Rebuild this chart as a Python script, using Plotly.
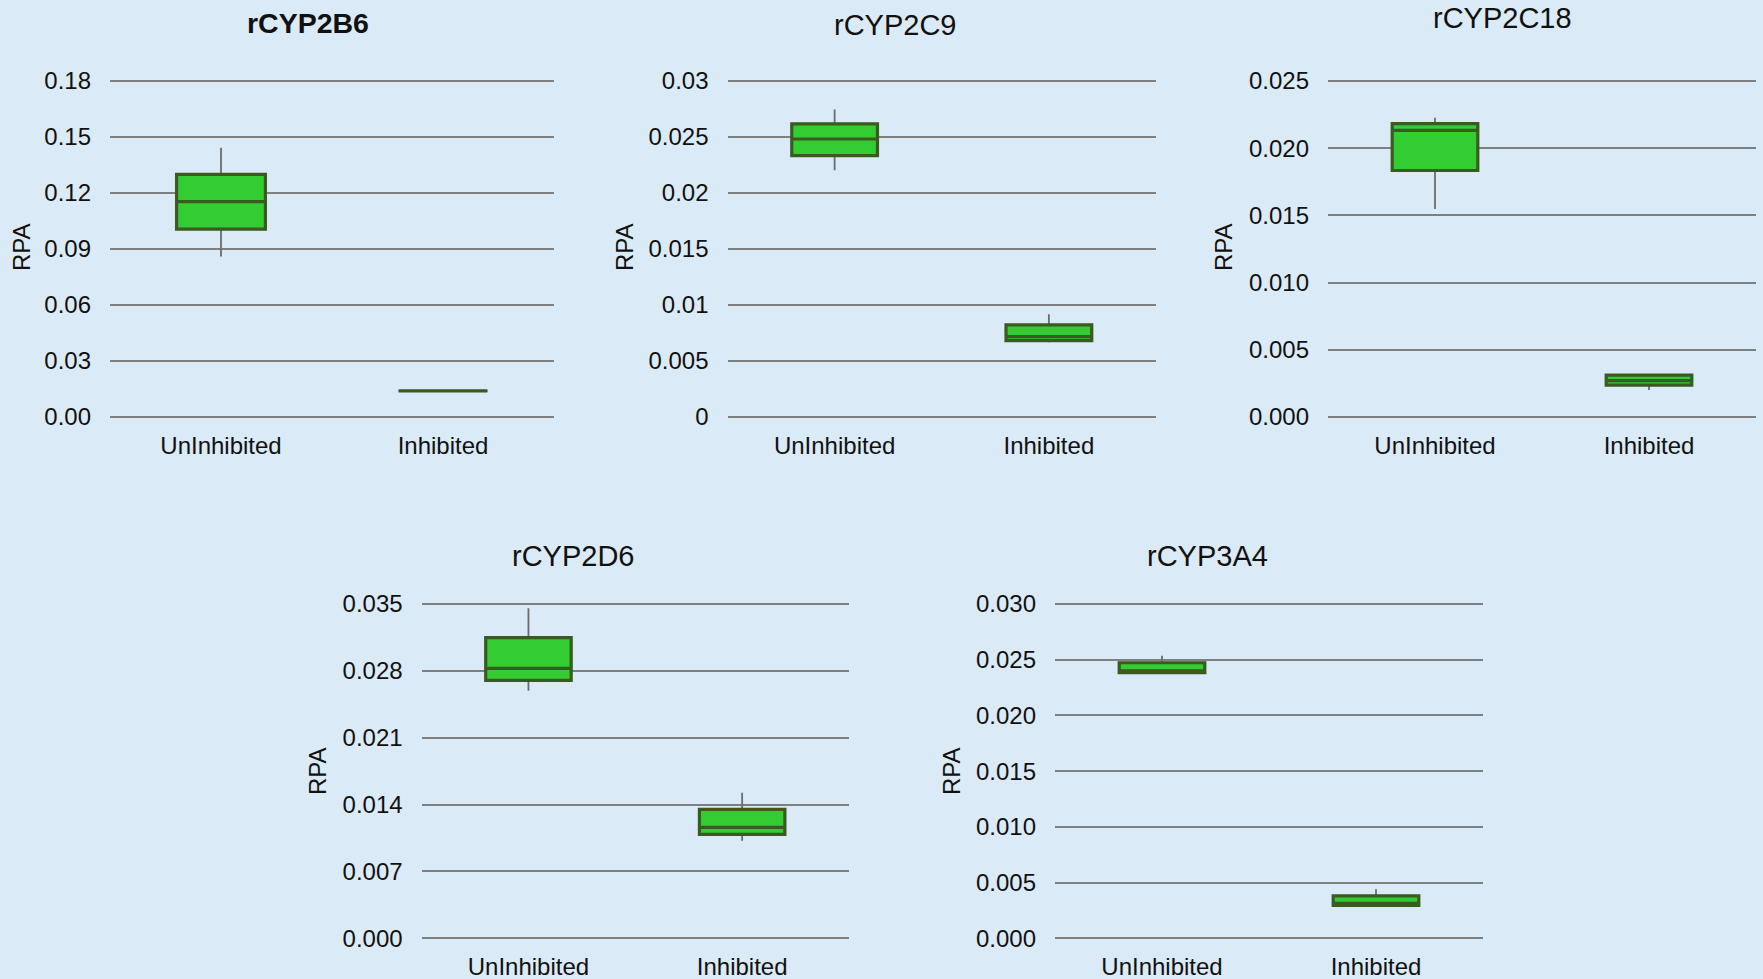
import plotly.graph_objects as go

W, H = 1763, 979

categories = ["UnInhibited", "Inhibited"]
titles = ["rCYP2B6", "rCYP2C9", "rCYP2C18", "rCYP2D6", "rCYP3A4"]
title_bold = [True, False, False, False, False]

# box statistics per panel: [UnInhibited, Inhibited]
q1 =     [[0.1007, 0.0140], [0.02333, 0.00682], [0.01834, 0.00237], [0.02701, 0.01089], [0.02384, 0.00296]]
median = [[0.1154, 0.0140], [0.02482, 0.00718], [0.02133, 0.00270], [0.02827, 0.01162], [0.02401, 0.00314]]
q3 =     [[0.1300, 0.0140], [0.02617, 0.00822], [0.02183, 0.00312], [0.03147, 0.01350], [0.02473, 0.00380]]
lower =  [[0.0860, 0.0140], [0.02204, 0.00667], [0.01547, 0.00200], [0.02592, 0.01022], [0.02384, 0.00296]]
upper =  [[0.1442, 0.0140], [0.02745, 0.00918], [0.02226, 0.00320], [0.03455, 0.01524], [0.02536, 0.00440]]

y_max = [0.18, 0.03, 0.025, 0.035, 0.03]
y_dtick = [0.03, 0.005, 0.005, 0.007, 0.005]
y_fmt = [".2f", None, ".3f", ".3f", ".3f"]
y_ticktext_2c9 = ["0", "0.005", "0.01", "0.015", "0.02", "0.025", "0.03"]

# layout (pixels)
px_x = [(110, 554), (727.5, 1156), (1328, 1756), (421.6, 849), (1055, 1483)]
px_y = [(81, 417), (81, 417), (81, 417), (604, 938.3), (604, 938.3)]
title_pos = [(308, 23), (895, 25), (1502, 18), (573, 556), (1207, 556)]
rpa_pos = [(21, 247), (624, 247), (1223, 247), (317, 771), (951, 771)]
EXT = 0.01  # small headroom so the top gridline is drawn

BG = "#dbeaf7"
FILL = "#33cc33"
EDGE = "#3a5a1f"
WHISK = "#6b6b6b"
GRID = "#7f7f7f"
FONT = "Liberation Sans, Arial, sans-serif"

fig = go.Figure()
layout = {}
annotations = []
for i in range(5):
    ax = "" if i == 0 else str(i + 1)
    xref, yref = "x" + ax, "y" + ax
    # whiskers (thin gray)
    fig.add_trace(go.Box(
        x=categories, q1=q1[i], median=median[i], q3=q3[i],
        lowerfence=lower[i], upperfence=upper[i],
        xaxis=xref, yaxis=yref, width=0.4, whiskerwidth=0,
        fillcolor="rgba(0,0,0,0)", line=dict(color=WHISK, width=1.8),
        boxpoints=False, showlegend=False, hoverinfo="skip"))
    # box body (green with dark outline)
    fig.add_trace(go.Box(
        x=categories, q1=q1[i], median=median[i], q3=q3[i],
        lowerfence=q1[i], upperfence=q3[i],
        xaxis=xref, yaxis=yref, width=0.4, whiskerwidth=0,
        fillcolor=FILL, line=dict(color=EDGE, width=3.2),
        boxpoints=False, showlegend=False))

    x0, x1 = px_x[i]
    yt, yb = px_y[i]
    yt_ext = yt - EXT * (yb - yt)
    layout["xaxis" + ax] = dict(
        domain=[x0 / W, x1 / W], anchor=yref, type="category",
        categoryorder="array", categoryarray=categories, range=[-0.5, 1.5],
        showgrid=False, zeroline=False, showline=False, ticks="",
        automargin=False,
        tickfont=dict(family=FONT, size=24, color="#111111"),
        ticklabelstandoff=12)
    yax = dict(
        domain=[1 - yb / H, 1 - yt_ext / H], anchor=xref,
        range=[0, y_max[i] * (1 + EXT)], dtick=y_dtick[i], tick0=0,
        showgrid=True, gridcolor=GRID, gridwidth=2,
        zeroline=True, zerolinecolor=GRID, zerolinewidth=2,
        showline=False, ticks="", automargin=False,
        tickfont=dict(family=FONT, size=24, color="#111111"),
        ticklabelstandoff=18)
    if i == 1:
        yax["tickmode"] = "array"
        yax["tickvals"] = [k * 0.005 for k in range(7)]
        yax["ticktext"] = y_ticktext_2c9
    else:
        yax["tickformat"] = y_fmt[i]
    layout["yaxis" + ax] = yax

    tx, ty = title_pos[i]
    annotations.append(dict(
        text=("<b>%s</b>" % titles[i]) if title_bold[i] else titles[i],
        x=tx / W, y=1 - ty / H, xref="paper", yref="paper",
        xanchor="center", yanchor="middle", showarrow=False,
        font=dict(family=FONT, size=28.5 if title_bold[i] else 29, color="#111111")))
    rx, ry = rpa_pos[i]
    annotations.append(dict(
        text="RPA", textangle=-90,
        x=rx / W, y=1 - ry / H, xref="paper", yref="paper",
        xanchor="center", yanchor="middle", showarrow=False,
        font=dict(family=FONT, size=24, color="#111111")))

fig.update_layout(
    width=W, height=H, margin=dict(l=0, r=0, t=0, b=0, autoexpand=False),
    paper_bgcolor=BG, plot_bgcolor=BG,
    boxmode="overlay", showlegend=False,
    annotations=annotations, **layout)

fig.write_html("out.html", config={"displayModeBar": False})
